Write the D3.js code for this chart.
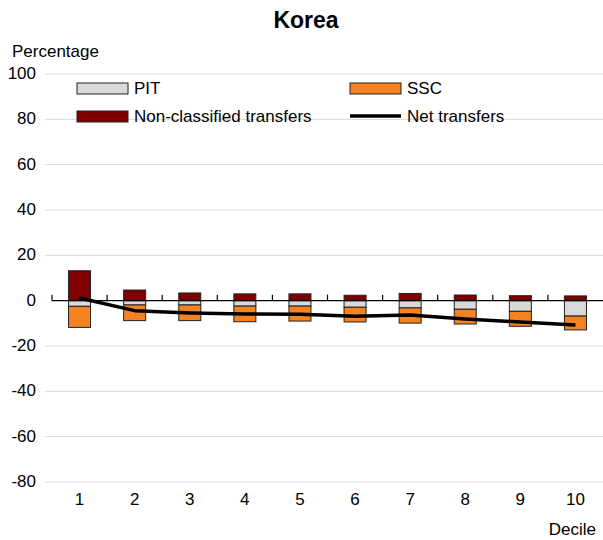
<!DOCTYPE html>
<html><head><meta charset="utf-8">
<script src="https://cdn.jsdelivr.net/npm/d3@7"></script>
<style>body{margin:0;background:#fff}svg{font-family:"Liberation Sans",Arial,sans-serif}</style>
</head><body><svg id="c" width="603" height="540"></svg>
<script>
const deciles = ["1","2","3","4","5","6","7","8","9","10"];
const pit = [-2.5,-1.9,-1.9,-2.4,-2.4,-2.9,-3.2,-3.8,-4.7,-6.8];
const ssc = [-9.3,-6.9,-6.9,-6.9,-6.6,-6.5,-6.7,-6.5,-6.6,-6.1];
const nonClassified = [13.2,4.7,3.4,3.0,3.0,2.4,3.2,2.5,2.2,2.1];
const netTransfers = [1.2,-4.4,-5.4,-5.9,-6.0,-6.9,-6.3,-8.1,-9.4,-10.7];
const yTicks = [100,80,60,40,20,0,-20,-40,-60,-80];

const colors = {pit:"#d9d9d9", ssc:"#f58220", nc:"#7f0000"};
const svg = d3.select("#c");
const x = d3.scaleBand().domain(deciles).range([52,603]);
const y = d3.scaleLinear().domain([-80,100]).range([482,74]);
const bw = 22;
const FS = 17;

// gridlines
svg.append("g").selectAll("line").data(yTicks.filter(d=>d!==0)).join("line")
  .attr("x1",45).attr("x2",603).attr("y1",d=>y(d)).attr("y2",d=>y(d))
  .attr("stroke","#d9d9d9").attr("stroke-width",1);
// y labels
svg.append("g").selectAll("text").data(yTicks).join("text")
  .attr("x",36).attr("y",d=>y(d)).attr("dy","0.3em").attr("text-anchor","end")
  .attr("font-size",FS).attr("fill","#000").text(d=>d);

// bars
const g = svg.append("g");
deciles.forEach((d,i)=>{
  const cx = x(d)+x.bandwidth()/2;
  const segs = [
    {y0:0,y1:nonClassified[i],c:colors.nc},
    {y0:0,y1:pit[i],c:colors.pit},
    {y0:pit[i],y1:pit[i]+ssc[i],c:colors.ssc}
  ];
  segs.forEach(s=>{
    g.append("rect").attr("x",cx-bw/2).attr("width",bw)
      .attr("y",y(Math.max(s.y0,s.y1))).attr("height",Math.abs(y(s.y0)-y(s.y1)))
      .attr("fill",s.c).attr("stroke","#222").attr("stroke-width",1);
  });
});

// zero axis
svg.append("line").attr("x1",52).attr("x2",603).attr("y1",y(0)).attr("y2",y(0))
  .attr("stroke","#000").attr("stroke-width",1.2);
svg.append("g").selectAll("line").data(deciles).join("line")
  .attr("x1",d=>x(d)).attr("x2",d=>x(d)).attr("y1",y(0)).attr("y2",y(0)-6)
  .attr("stroke","#000").attr("stroke-width",1.2);

// net line
svg.append("path").datum(netTransfers)
  .attr("d",d3.line().x((d,i)=>x(deciles[i])+x.bandwidth()/2).y(d=>y(d)))
  .attr("fill","none").attr("stroke","#000").attr("stroke-width",3.5).attr("stroke-linejoin","round");

// x labels
svg.append("g").selectAll("text").data(deciles).join("text")
  .attr("x",d=>x(d)+x.bandwidth()/2).attr("y",505).attr("text-anchor","middle")
  .attr("font-size",FS).text(d=>d);

svg.append("text").attr("x",306).attr("y",28).attr("text-anchor","middle")
  .attr("font-size",23).attr("font-weight","bold").text("Korea");
svg.append("text").attr("x",12).attr("y",57).attr("font-size",FS).text("Percentage");
svg.append("text").attr("x",596).attr("y",535).attr("text-anchor","end").attr("font-size",FS).text("Decile");

// legend
const leg = [
  {t:"PIT",c:colors.pit,x:77,y:83,type:"rect"},
  {t:"SSC",c:colors.ssc,x:350,y:83,type:"rect"},
  {t:"Non-classified transfers",c:colors.nc,x:77,y:111,type:"rect"},
  {t:"Net transfers",c:"#000",x:350,y:111,type:"line"}
];
leg.forEach(l=>{
  if(l.type==="rect"){
    svg.append("rect").attr("x",l.x).attr("y",l.y).attr("width",51).attr("height",11)
      .attr("fill",l.c).attr("stroke","#222").attr("stroke-width",1);
  } else {
    svg.append("line").attr("x1",l.x).attr("x2",l.x+51).attr("y1",l.y+5).attr("y2",l.y+5)
      .attr("stroke","#000").attr("stroke-width",3.5);
  }
  svg.append("text").attr("x",l.x+57).attr("y",l.y+11)
    .attr("font-size",FS).text(l.t);
});
</script></body></html>
